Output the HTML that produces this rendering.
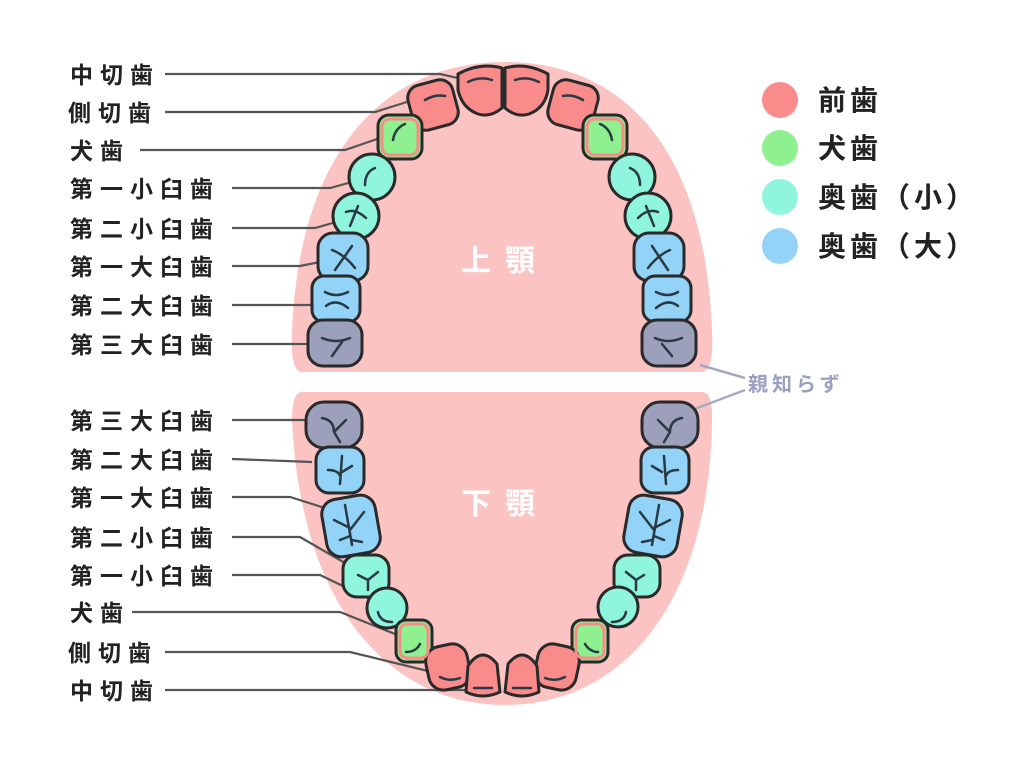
<!DOCTYPE html>
<html><head><meta charset="utf-8"><style>
html,body{margin:0;padding:0;background:#fff;}
svg{display:block}
.l{font-family:"Liberation Sans","Noto Sans CJK JP",sans-serif;font-weight:bold;font-size:23px;fill:#222;letter-spacing:7px}
.g{font-family:"Liberation Sans","Noto Sans CJK JP",sans-serif;font-weight:bold;font-size:28px;fill:#222;letter-spacing:4px}
.w{font-family:"Liberation Sans","Noto Sans CJK JP",sans-serif;font-weight:bold;font-size:30px;fill:#fff;letter-spacing:14px}
.ln{stroke:#555;stroke-width:2.2;fill:none}
.t{stroke:#2a2a2a;stroke-width:3;stroke-linejoin:round}
.m{stroke:#2a3a44;stroke-width:2.5;fill:none;stroke-linecap:round}
</style></head><body>
<svg width="1024" height="768" viewBox="0 0 1024 768" xmlns="http://www.w3.org/2000/svg">
<path d="M302,372 L702,372 Q714,372 712,330 C705,150 625,62 505,62 C385,62 300,150 292,330 Q290,372 302,372 Z" fill="#fcc3c3"/>
<path d="M302,392 L702,392 Q713,392 712,420 C710,600 625,705 505,705 C385,705 300,600 292,420 Q292,392 302,392 Z" fill="#fcc3c3"/>
<text x="505" y="271" class="w" text-anchor="middle">上顎</text>
<text x="505" y="514" class="w" text-anchor="middle">下顎</text>

<g class="ln">
<polyline points="165,74 440,74 462,79"/>
<polyline points="165,112 375,112 410,101"/>
<polyline points="140,150 345,150 380,138"/>
<polyline points="232,188 330,188 352,182"/>
<polyline points="232,228 315,228 336,222"/>
<polyline points="232,266 300,266 320,262"/>
<polyline points="232,305 314,305"/>
<polyline points="232,344 310,344"/>
<polyline points="232,420 305,420 310,418"/>
<polyline points="232,459 312,462"/>
<polyline points="232,497 290,497 325,508"/>
<polyline points="232,537 300,537 345,563"/>
<polyline points="232,575 320,575 372,600"/>
<polyline points="132,612 340,612 400,636"/>
<polyline points="165,652 350,652 432,672"/>
<polyline points="165,690 465,690"/>
</g>
<g stroke="#a4aac6" stroke-width="2.5" fill="none">
<line x1="700" y1="365" x2="745" y2="378"/>
<line x1="692" y1="410" x2="745" y2="390"/>
</g>

<g class="t">
<path d="M458,74 Q480,62 502,68 L502,108 Q490,118 478,114 Q462,108 458,90 Z" fill="#f98b8b"/>
<path d="M548,74 Q526,62 505,68 L505,108 Q517,118 529,114 Q545,108 548,90 Z" fill="#f98b8b"/>
<rect x="410" y="82" width="46" height="46" rx="13" fill="#f98b8b" transform="rotate(-15 433 105)"/>
<rect x="550" y="82" width="46" height="46" rx="13" fill="#f98b8b" transform="rotate(15 573 105)"/>
<rect x="378" y="115" width="44" height="44" rx="11" fill="#8ef08e"/>
<rect x="583" y="115" width="44" height="44" rx="11" fill="#8ef08e"/>
<circle cx="372" cy="177" r="23" fill="#8ff5dc"/>
<circle cx="632" cy="177" r="23" fill="#8ff5dc"/>
<circle cx="356" cy="216" r="23" fill="#8ff5dc"/>
<circle cx="648" cy="216" r="23" fill="#8ff5dc"/>
<rect x="318" y="233" width="50" height="48" rx="15" fill="#93d3f7"/>
<rect x="634" y="233" width="50" height="48" rx="15" fill="#93d3f7"/>
<rect x="312" y="276" width="48" height="46" rx="12" fill="#93d3f7"/>
<rect x="643" y="276" width="48" height="46" rx="12" fill="#93d3f7"/>
<rect x="308" y="320" width="54" height="46" rx="15" fill="#9da0bb"/>
<rect x="642" y="320" width="54" height="46" rx="15" fill="#9da0bb"/>
</g>
<g class="t">
<rect x="306" y="402" width="56" height="46" rx="18" fill="#9da0bb"/>
<rect x="642" y="402" width="56" height="46" rx="18" fill="#9da0bb"/>
<rect x="316" y="447" width="48" height="46" rx="13" fill="#93d3f7"/>
<rect x="641" y="447" width="48" height="46" rx="13" fill="#93d3f7"/>
<rect x="324" y="497" width="54" height="58" rx="15" fill="#93d3f7" transform="rotate(-10 351 526)"/>
<rect x="626" y="497" width="54" height="58" rx="15" fill="#93d3f7" transform="rotate(10 653 526)"/>
<rect x="343" y="555" width="46" height="42" rx="14" fill="#8ff5dc"/>
<rect x="614" y="555" width="46" height="42" rx="14" fill="#8ff5dc"/>
<circle cx="387" cy="608" r="20" fill="#8ff5dc"/>
<circle cx="618" cy="607" r="20" fill="#8ff5dc"/>
<rect x="396" y="620" width="36" height="42" rx="10" fill="#8ef08e"/>
<rect x="572" y="620" width="36" height="42" rx="10" fill="#8ef08e"/>
<rect x="427" y="645" width="42" height="44" rx="15" fill="#f98b8b" transform="rotate(-12 448 667)"/>
<rect x="536" y="645" width="42" height="44" rx="15" fill="#f98b8b" transform="rotate(12 557 667)"/>
<path d="M466,692 L468,666 Q482,645 497,664 L500,692 Q483,700 466,692 Z" fill="#f98b8b"/>
<path d="M505,692 L508,664 Q523,645 537,666 L539,692 Q522,700 505,692 Z" fill="#f98b8b"/>
</g>
<g fill="none" stroke="#f98b8b" stroke-width="3">
<rect x="382" y="119" width="36" height="36" rx="8"/>
<rect x="587" y="119" width="36" height="36" rx="8"/>
<rect x="400" y="624" width="28" height="34" rx="7"/>
<rect x="576" y="624" width="28" height="34" rx="7"/>
</g>
<g class="m">
<path d="M468,82 Q480,76 492,80"/><path d="M515,80 Q527,76 539,82"/>
<path d="M425,100 Q435,94 445,96"/><path d="M563,96 Q573,94 583,100"/>
<path d="M393,140 Q395,128 405,124"/><path d="M600,124 Q610,128 612,140"/>
<path d="M365,185 Q365,172 375,168"/><path d="M630,168 Q640,172 640,185"/>
<path d="M346,212 Q355,208 366,218 M358,206 L350,226"/><path d="M638,218 Q648,208 658,212 M646,206 L654,226"/>
<path d="M332,250 Q345,255 355,268 M352,246 L335,270"/><path d="M648,268 Q658,255 670,250 M652,246 L668,270"/>
<path d="M325,292 Q336,298 348,292 M326,306 Q336,298 348,308"/><path d="M656,292 Q668,298 678,292 M656,308 Q668,298 678,306"/>
<path d="M322,338 Q336,344 350,338 M332,356 L342,342"/><path d="M655,338 Q668,344 682,338 M662,344 L672,356"/>
<path d="M322,418 Q334,420 334,432 M334,432 L346,420 M334,432 L340,442"/><path d="M682,418 Q670,420 670,432 M670,432 L658,420 M670,432 L664,442"/>
<path d="M342,456 L340,484 M328,470 Q338,470 340,476 M352,466 L342,472"/><path d="M664,456 L666,484 M678,470 Q668,470 666,476 M652,466 L662,472"/>
<path d="M345,505 L352,545 M334,520 L350,528 M364,512 L350,530 M340,540 L350,536 M362,542 L352,540"/><path d="M659,505 L652,545 M670,520 L654,528 M640,512 L654,530 M664,540 L654,536 M642,542 L652,540"/>
<path d="M358,575 L368,580 L378,572 M368,580 L368,590"/><path d="M644,575 L636,580 L626,572 M636,580 L636,590"/>
<path d="M378,612 Q380,622 392,622"/><path d="M612,622 Q624,622 626,612"/>
<path d="M406,652 Q416,652 420,644"/><path d="M585,644 Q590,652 598,652"/>
<path d="M440,677 Q450,682 460,678"/><path d="M545,678 Q555,682 565,677"/>
<path d="M474,688 L492,688"/><path d="M513,688 L531,688"/>
</g>

<g class="l">
<text x="70" y="83">中切歯</text>
<text x="68" y="121">側切歯</text>
<text x="70" y="159">犬歯</text>
<text x="70" y="197">第一小臼歯</text>
<text x="70" y="237">第二小臼歯</text>
<text x="70" y="275">第一大臼歯</text>
<text x="70" y="314">第二大臼歯</text>
<text x="70" y="353">第三大臼歯</text>
<text x="70" y="429">第三大臼歯</text>
<text x="70" y="468">第二大臼歯</text>
<text x="70" y="506">第一大臼歯</text>
<text x="70" y="546">第二小臼歯</text>
<text x="70" y="584">第一小臼歯</text>
<text x="70" y="621">犬歯</text>
<text x="68" y="661">側切歯</text>
<text x="70" y="699">中切歯</text>
</g>
<text x="748" y="391" font-family="Liberation Sans,Noto Sans CJK JP,sans-serif" font-size="20" font-weight="bold" fill="#9aa1c2" letter-spacing="4">親知らず</text>

<circle cx="780" cy="100" r="18" fill="#f98b8b"/>
<circle cx="780" cy="148" r="18" fill="#8ef08e"/>
<circle cx="780" cy="197" r="18" fill="#8ff5dc"/>
<circle cx="780" cy="246" r="18" fill="#93d3f7"/>
<text x="818" y="110" class="g">前歯</text>
<text x="818" y="158" class="g">犬歯</text>
<text x="818" y="207" class="g">奥歯（小）</text>
<text x="818" y="256" class="g">奥歯（大）</text>
</svg>
</body></html>
